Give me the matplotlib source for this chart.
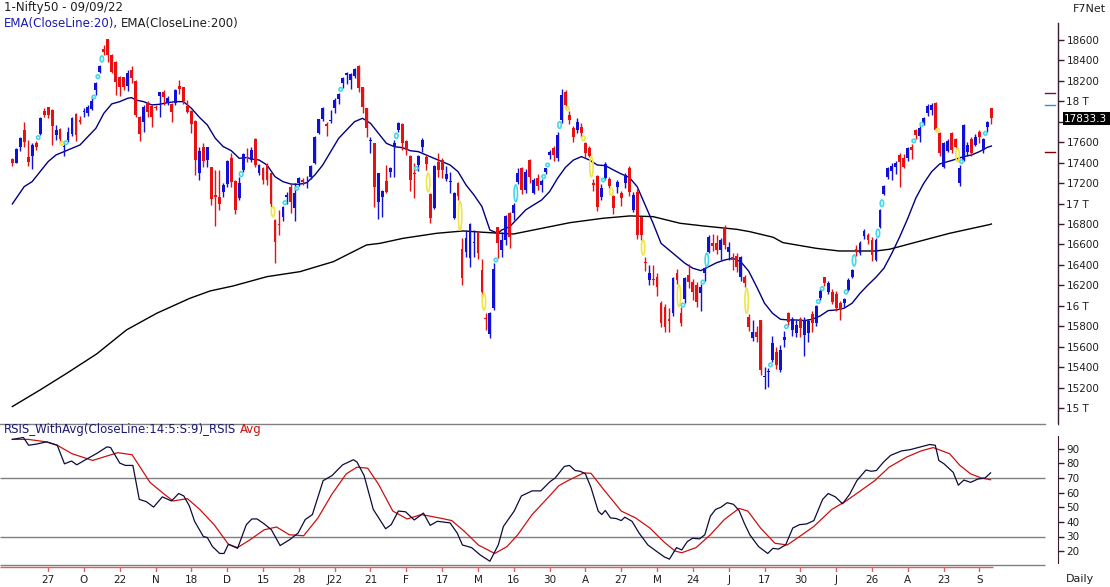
import matplotlib
matplotlib.use('Agg')
import matplotlib.pyplot as plt
from matplotlib.patches import Ellipse, Rectangle
from matplotlib.lines import Line2D

W, H = 1110, 587

# Daily OHLC, 14 Sep 2021 .. 09 Sep 2022 (one value per trading day)
opens = [
    17436, 17400, 17557, 17720, 17456, 17466, 17590, 17681, 17906, 17942,
    17916, 17671, 17733, 17551, 17622, 17678, 17873, 17818, 17893, 17883,
    17925, 18111, 18291, 18509, 18610, 18454, 18388, 18242, 18235, 18150,
    18307, 18202, 17844, 17795, 17987, 17955, 17948, 18056, 18095, 17987,
    17974, 17987, 18150, 18137, 17955, 17909, 17811, 17296, 17557, 17427,
    17355, 17075, 17068, 17110, 17192, 17443, 17221, 17058, 17329, 17455,
    17426, 17631, 17296, 17344, 17384, 17296, 16839, 16800, 16872, 17065,
    17165, 16953, 17198, 17224, 17200, 17257, 17393, 17693, 17824, 17778,
    17805, 17931, 18019, 18182, 18261, 18208, 18248, 18345, 18137, 17931,
    17612, 17589, 17019, 17067, 17224, 17312, 17550, 17719, 17778, 17615,
    17465, 17302, 17377, 17556, 17459, 17090, 16953, 17410, 17426, 17237,
    17207, 16856, 17204, 16552, 16529, 16464, 16611, 16725, 16350, 15884,
    15724, 15975, 16767, 16546, 16644, 16911, 16905, 17214, 17345, 17130,
    17426, 17107, 17247, 17180, 17312, 17476, 17540, 17443, 17818, 18095,
    17866, 17736, 17720, 17752, 17589, 17540, 17198, 17273, 17061, 17250,
    17237, 17070, 17166, 17100, 17198, 17345, 16937, 17117, 16872, 16432,
    16253, 16262, 16285, 16031, 15985, 15870, 15927, 16324, 15927, 16063,
    16301, 16236, 16204, 16122, 16318, 16530, 16611, 16611, 16546, 16774,
    16530, 16481, 16491, 16285, 16285, 15894, 15682, 15747, 15861, 15300,
    15350, 15470, 15552, 15372, 15666, 15933, 15764, 15731, 15868, 15715,
    15731, 15920, 15829, 16073, 16279, 16138, 16138, 16116, 16031, 16024,
    16155, 16285, 16560, 16515, 16680, 16695, 16645, 16450, 16768, 17094,
    17257, 17322, 17354, 17475, 17442, 17442, 17556, 17720, 17660, 17785,
    17883, 17915, 17987, 17693, 17361, 17517, 17693, 17628, 17204, 17426,
    17508, 17628, 17573, 17703, 17524, 17752, 17932]
highs = [
    17443, 17541, 17650, 17795, 17622, 17590, 17612, 17844, 17938, 17948,
    17922, 17769, 17740, 17585, 17753, 17844, 17883, 17857, 17932, 17964,
    18052, 18193, 18356, 18551, 18610, 18460, 18395, 18248, 18242, 18307,
    18346, 18209, 17857, 17964, 18007, 17964, 17964, 18095, 18111, 18052,
    17987, 18118, 18209, 18144, 18013, 17916, 17818, 17557, 17590, 17557,
    17362, 17329, 17329, 17198, 17427, 17492, 17231, 17264, 17492, 17540,
    17550, 17638, 17387, 17361, 17393, 17302, 16846, 16937, 16976, 17115,
    17191, 17198, 17256, 17247, 17265, 17375, 17660, 17830, 17945, 17800,
    17915, 18030, 18085, 18235, 18285, 18280, 18322, 18355, 18143, 17938,
    17648, 17595, 17302, 17133, 17377, 17361, 17622, 17801, 17785, 17622,
    17475, 17393, 17475, 17638, 17475, 17100, 17377, 17491, 17442, 17367,
    17312, 17116, 17214, 16660, 16741, 16807, 16741, 16735, 16454, 15933,
    15943, 16415, 16774, 16725, 16889, 16921, 17005, 17345, 17355, 17335,
    17440, 17250, 17290, 17240, 17350, 17525, 17560, 17700, 18117, 18110,
    17905, 17760, 17840, 17790, 17600, 17560, 17240, 17280, 17190, 17410,
    17260, 17080, 17230, 17120, 17300, 17365, 17110, 17140, 16880, 16480,
    16400, 16400, 16320, 16050, 16020, 15980, 16285, 16360, 15985, 16285,
    16410, 16260, 16230, 16210, 16380, 16690, 16700, 16690, 16660, 16790,
    16620, 16520, 16520, 16490, 16300, 15915, 15860, 15800, 15865, 15400,
    15390, 15700, 15600, 15620, 15750, 15940, 15890, 15860, 15890, 15890,
    15870, 15950, 16010, 16160, 16285, 16240, 16160, 16140, 16050, 16080,
    16270, 16360, 16590, 16630, 16750, 16710, 16670, 16660, 16950, 17180,
    17360, 17400, 17420, 17490, 17480, 17550, 17580, 17730, 17755, 17850,
    17970, 17980, 17995, 17700, 17600, 17630, 17700, 17640, 17380, 17780,
    17600, 17650, 17680, 17720, 17640, 17810, 17935]
lows = [
    17371, 17394, 17518, 17550, 17371, 17335, 17524, 17671, 17844, 17834,
    17573, 17622, 17595, 17466, 17605, 17661, 17612, 17779, 17844, 17860,
    17916, 18062, 18274, 18454, 18388, 18274, 18062, 18052, 18111, 18105,
    18176, 17844, 17616, 17704, 17844, 17753, 17916, 17844, 17965, 17965,
    17802, 17965, 18072, 17974, 17890, 17694, 17280, 17231, 17355, 17355,
    16987, 16781, 16938, 17068, 17166, 17166, 16895, 17035, 17313, 17410,
    17410, 17361, 17279, 17191, 17181, 16970, 16415, 16693, 16833, 17000,
    16911, 16833, 17172, 17181, 17150, 17240, 17385, 17680, 17810, 17660,
    17785, 17885, 17970, 18135, 18170, 18117, 18225, 18095, 17889, 17654,
    17491, 16970, 16846, 16872, 17107, 17257, 17263, 17703, 17524, 17475,
    17126, 17051, 17322, 17508, 17328, 16813, 16943, 17263, 17247, 17224,
    17107, 16846, 17035, 16204, 16481, 16376, 16481, 16454, 16089, 15763,
    15682, 15959, 16464, 16475, 16595, 16563, 16840, 17190, 17096, 17100,
    17200, 17090, 17130, 17110, 17290, 17440, 17420, 17420, 17790, 17935,
    17780, 17600, 17690, 17650, 17450, 17460, 17120, 16930, 17030, 17230,
    17150, 16900, 17100, 16980, 17150, 17070, 16920, 16650, 16640, 16340,
    16200, 16200, 16100, 15790, 15740, 15740, 15900, 16210, 15800, 16030,
    16170, 16060, 15990, 15950, 16240, 16520, 16540, 16510, 16450, 16560,
    16450, 16350, 16330, 16240, 16180, 15750, 15660, 15650, 15320, 15190,
    15210, 15450, 15380, 15350, 15600, 15800, 15700, 15690, 15690, 15510,
    15650, 15740, 15800, 16060, 16190, 16120, 16020, 15950, 15860, 15990,
    16140, 16270, 16490, 16500, 16650, 16600, 16440, 16440, 16760, 17080,
    17240, 17230, 17290, 17160, 17350, 17420, 17440, 17630, 17600, 17770,
    17860, 17870, 17710, 17470, 17350, 17500, 17490, 17540, 17170, 17420,
    17470, 17470, 17560, 17590, 17490, 17700, 17780]
closes = [
    17394, 17534, 17642, 17599, 17404, 17573, 17550, 17834, 17867, 17867,
    17762, 17720, 17629, 17564, 17697, 17834, 17668, 17802, 17906, 17948,
    18007, 18176, 18346, 18486, 18454, 18291, 18193, 18137, 18144, 18281,
    18225, 17867, 17681, 17948, 17899, 17844, 17932, 18089, 18046, 18036,
    17893, 18111, 18118, 18007, 17899, 17779, 17427, 17518, 17420, 17551,
    17042, 17068, 16996, 17182, 17420, 17215, 16938, 17198, 17485, 17445,
    17524, 17377, 17377, 17230, 17230, 16996, 16627, 16790, 16970, 17080,
    17019, 17100, 17247, 17214, 17205, 17367, 17648, 17824, 17938, 17758,
    17817, 18013, 18068, 18225, 18274, 18267, 18313, 18127, 17941, 17736,
    17622, 17165, 17296, 17126, 17116, 17351, 17589, 17791, 17589, 17524,
    17230, 17289, 17468, 17622, 17387, 16856, 17367, 17328, 17328, 17289,
    17220, 17107, 17074, 16269, 16666, 16797, 16624, 16513, 16138, 15871,
    15933, 16357, 16611, 16644, 16879, 16677, 16986, 17296, 17133, 17310,
    17263, 17231, 17172, 17225, 17345, 17508, 17475, 17671, 18062, 17964,
    17817, 17654, 17801, 17687, 17491, 17470, 17182, 16970, 17149, 17390,
    17172, 16960, 17214, 17051, 17280, 17117, 17084, 16693, 16693, 16416,
    16318, 16253, 16187, 15829, 15796, 15855, 16269, 16253, 15829, 16269,
    16230, 16139, 16041, 16187, 16367, 16676, 16585, 16546, 16644, 16595,
    16579, 16448, 16383, 16481, 16220, 15796, 15747, 15699, 15372, 15313,
    15362, 15633, 15421, 15568, 15698, 15845, 15868, 15812, 15780, 15861,
    15852, 15829, 15998, 16148, 16227, 16227, 16041, 15975, 15959, 16063,
    16253, 16350, 16525, 16615, 16735, 16645, 16495, 16645, 16937, 17172,
    17345, 17368, 17400, 17410, 17361, 17540, 17524, 17671, 17740, 17834,
    17954, 17964, 17720, 17491, 17589, 17615, 17524, 17556, 17345, 17768,
    17573, 17491, 17654, 17654, 17628, 17801, 17833]

# Gap zones drawn before a bar: bar index, low edge, high edge, direction
gap_bar = [7, 13, 14, 21, 22, 23, 58, 66, 69, 72, 83, 97, 102, 105, 113, 119,
           122, 127, 134, 135, 138, 140, 144, 146, 149, 151, 159, 168, 169,
           174, 175, 185, 191, 195, 203, 204, 210, 212, 218, 219, 227, 229,
           233, 238, 239, 245]
gap_lo = [17629, 17577, 17585, 18026, 18225, 18385, 17264, 16872, 16996, 17133,
          18101, 17638, 17328, 17116, 16741, 15959, 16432, 17019, 17247, 17361,
          17736, 17915, 17616, 17263, 17214, 17084, 16497, 15992, 15995, 16220,
          16383, 15927, 15405, 15780, 16025, 16155, 16116, 16390, 16670, 16970,
          17596, 17759, 17707, 17410, 17394, 17671]
gap_hi = [17661, 17603, 17605, 18059, 18258, 18444, 17313, 16970, 17022, 17165,
          18133, 17687, 17361, 17296, 17019, 16122, 16464, 17182, 17280, 17394,
          17801, 17948, 17661, 17459, 17247, 17150, 16644, 16204, 16020, 16243,
          16514, 16171, 15438, 15812, 16057, 16181, 16155, 16497, 16748, 17035,
          17629, 17791, 17726, 17540, 17426, 17703]
gap_up = [1, 0, 1, 1, 1, 1, 1, 0, 1, 1, 1, 1, 1, 0, 0, 0,
          1, 1, 1, 1, 1, 0, 0, 0, 1, 0, 0, 0, 1,
          1, 1, 0, 1, 1, 1, 1, 1, 1, 1, 1, 1, 1,
          0, 0, 1, 1]

# EMA(20) and EMA(200)
ema20_x = [0, 3, 5, 7, 9, 11, 13, 15, 17, 19, 21, 23, 25, 27, 29, 30, 31, 33, 35,
           37, 39, 41, 43, 45, 47, 49, 51, 53, 55, 57, 59, 60, 62, 64, 66, 68, 70,
           72, 74, 76, 78, 80, 82, 84, 86, 88, 90, 92, 94, 96, 98, 100, 102, 104,
           106, 108, 110, 112, 114, 116, 118, 120, 122, 123, 125, 127, 129, 131,
           133, 135, 137, 139, 141, 143, 145, 147, 149, 151, 153, 155, 157, 159,
           161, 163, 165, 167, 169, 171, 173, 175, 177, 179, 181, 183, 185, 187,
           189, 191, 193, 195, 197, 199, 201, 203, 205, 207, 209, 211, 213, 215,
           217, 219, 221, 223, 225, 227, 229, 231, 233, 235, 237, 239, 241, 243,
           245, 246]
ema20_v = [16996, 17166, 17215, 17313, 17410, 17476, 17508, 17541, 17573, 17655,
           17736, 17883, 17975, 17997, 18030, 18036, 18013, 17997, 17965, 17971,
           17987, 17997, 17997, 17932, 17844, 17769, 17639, 17557, 17518, 17443,
           17450, 17436, 17426, 17377, 17263, 17214, 17191, 17188, 17204, 17279,
           17377, 17508, 17638, 17720, 17801, 17834, 17785, 17687, 17589, 17556,
           17547, 17517, 17508, 17475, 17442, 17410, 17377, 17312, 17182, 17084,
           16970, 16741, 16709, 16742, 16775, 16856, 16938, 16987, 17035, 17117,
           17247, 17355, 17426, 17459, 17426, 17377, 17371, 17329, 17290, 17257,
           17166, 16987, 16807, 16611, 16546, 16481, 16416, 16367, 16344, 16383,
           16422, 16448, 16465, 16432, 16340, 16188, 16025, 15927, 15868, 15861,
           15861, 15855, 15868, 15901, 15953, 15959, 15976, 16025, 16122, 16204,
           16279, 16367, 16514, 16677, 16856, 17052, 17198, 17312, 17387, 17410,
           17433, 17459, 17475, 17508, 17550, 17563]
ema200_x = [0, 7, 13.7, 21.2, 28.7, 36.3, 44.6, 49.7, 55.5, 64, 72.3, 80.7, 89,
            92.4, 98.2, 106.6, 113.3, 118.3, 125.9, 131.8, 140.1, 148.4, 155.2,
            161, 167.8, 173.6, 182, 185.3, 191.2, 193.6, 202, 207.8, 217, 220.4,
            228.8, 235.5, 245.6, 246]
ema200_v = [15014, 15177, 15340, 15529, 15764, 15927, 16073, 16145, 16194, 16285,
            16334, 16432, 16595, 16611, 16660, 16709, 16732, 16719, 16702, 16748,
            16813, 16856, 16879, 16872, 16807, 16781, 16748, 16725, 16670, 16618,
            16562, 16536, 16536, 16553, 16640, 16709, 16795, 16800]

# RSI(14) and its average
rsi_x = [0, 2.8, 4.1, 5.9, 8.6, 11.3, 13.1, 14.9, 16.2, 18.4, 21.1, 23.8, 24.7,
         27, 28.4, 30.3, 31.9, 33.7, 35.5, 37.7, 40, 41.8, 43.1, 44.5, 45.8, 48,
         49, 50.3, 52.1, 53.2, 54.3, 56.6, 58.8, 60.2, 61.5, 63.3, 65.1, 67.3,
         69.6, 71.8, 73.6, 75.4, 78.1, 80.3, 83, 85.7, 86.6, 88.4, 90.7, 93.8,
         95.2, 97, 98.8, 101, 103.3, 105, 106.8, 110, 111.8, 113.1, 115.4, 117.6,
         120, 122.1, 123.4, 126.1, 127.9, 130.6, 132.8, 135.1, 136.4, 138.7, 140,
         141.4, 142.7, 144, 145.4, 147.2, 148.1, 149, 150.3, 151.7, 153, 153.9,
         155.7, 157.5, 159.7, 162, 163.8, 165.1, 166.9, 168.2, 169.6, 170.9,
         172.7, 174, 175.4, 176.7, 178.1, 179.6, 181.2, 182.6, 183.9, 185.3,
         187.5, 189.8, 191.1, 192.5, 194.3, 196.1, 197.8, 199.6, 201.4, 203.6,
         205, 206.8, 208.6, 210.4, 212.2, 214.5, 215.8, 217.1, 218.9, 220.7,
         223.4, 225.6, 228.3, 230.5, 231.9, 232.8, 234.1, 236.4, 237.7, 239.1,
         240.8, 242.6, 244.4, 245.8]
rsi_v = [96.4, 97.7, 92.4, 93.1, 94.7, 92.4, 79.7, 81.6, 79, 82.5, 86.6, 91.3,
         90.8, 80.2, 78.6, 78.6, 55.4, 53.8, 50.1, 57.1, 54.3, 59.4, 57.7, 50.8,
         40.4, 30, 29.3, 23.1, 18.4, 18.4, 24.7, 21.9, 38.1, 42, 42, 38.6, 34.6,
         23.8, 27.7, 32.3, 41.6, 45, 68.2, 71.6, 79, 82.5, 80.9, 71.6, 48.5, 35.3,
         38.1, 47.4, 46.9, 41.3, 46, 37.6, 40.4, 39.3, 32.3, 24.2, 22.4, 17.3,
         13.1, 24.2, 36.9, 47.4, 57.7, 61.2, 61.2, 67.5, 70, 77.9, 78.6, 75.1,
         74.6, 72.8, 63.5, 47.4, 45, 47.8, 42.7, 42.3, 40.9, 43.2, 40.4, 32.3,
         24.2, 19.6, 16.1, 14.5, 22.4, 20.8, 26.5, 28.8, 28.4, 31.2, 43.9, 48.5,
         50.1, 53.1, 52, 47.8, 39.2, 31.2, 23.1, 18.4, 21.9, 21.4, 24.2, 35.8,
         38.1, 38.6, 40.9, 55.4, 59.4, 57.1, 52.4, 58.9, 68.2, 75.5, 74.6, 75.1,
         80.9, 85.5, 88.5, 89.4, 91.3, 92.9, 92.4, 82, 79.7, 73.9, 65.1, 68.6,
         67, 69.3, 70, 73.5]
avg_x = [0, 4, 8.6, 11.3, 15, 20.2, 22.9, 26.5, 30.1, 34.6, 38.2, 40.4, 44, 47.1,
         50.7, 54.3, 56.6, 59.7, 63.3, 66.4, 69.6, 73.2, 76.8, 80.3, 83.9, 86.6,
         89.3, 92, 95.6, 99.2, 102.8, 107.3, 110.4, 113.6, 117.1, 121.2, 124.3,
         127, 130.6, 134.2, 137.3, 139.6, 143.6, 145.4, 148.5, 153, 156.6, 160.2,
         163.8, 166.5, 168.2, 171.8, 175.4, 178.9, 182.6, 184.8, 188, 191.6,
         194.7, 197.8, 201.4, 205.9, 209.5, 213.1, 216.7, 220.3, 224.7, 228.3,
         231.4, 235.5, 238.1, 240.8, 243.5, 245.8]
avg_v = [96.4, 96.4, 94.7, 92.4, 86.6, 82, 84.3, 87.3, 85.9, 67, 58.9, 54.3, 55.9,
         48.5, 38.1, 24.7, 22.4, 27.7, 34.6, 36.5, 31.2, 30.5, 42.7, 58.9, 72.8,
         77.4, 76.7, 65.8, 47.4, 42, 45, 42.7, 40.9, 33.5, 24.2, 18.4, 23.1, 31.2,
         45, 55.4, 64.7, 68.2, 73.5, 73.2, 62.4, 47.4, 42.7, 35.8, 26.1, 20.1,
         18.9, 22.4, 31.2, 41.6, 49.2, 47.4, 35.8, 25.4, 24.2, 30, 36.9, 48.5,
         54.3, 61.2, 68.2, 77.4, 84.3, 88.5, 90.8, 86.6, 78.6, 72.8, 70, 68.8]

date_labels = ['27', 'O', '22', 'N', '18', 'D', '15', '28', 'J22', '21', 'F', '17',
               'M', '16', '30', 'A', '27', 'M', '24', 'J', '17', '30', 'J', '26',
               'A', '23', 'S']
date_pos = [9 + 9 * k for k in range(len(date_labels))]


def fx(px):
    return px / W


def fy(py):
    return 1 - py / H


def price_at(py):
    return 18600 - (py - 40) * 9.7826


def rsi_at(py):
    return 70 + (478 - py) / 1.4625


def bar_at(px):
    return (px - 12.3) / 3.98


fig = plt.figure(figsize=(W / 100, H / 100), dpi=100)
fig.patch.set_facecolor('white')

AXC = '#3a1a34'
TXC = '#1e1e1e'
FS = 7.5      # numbers
FT = 8.5      # title texts
BLUE = '#1010d8'
RED = '#e81010'

# ---- price panel ----
ax = fig.add_axes([0, fy(423.5), fx(1058), fy(23) - fy(423.5)])
ax.set_xlim(bar_at(0), bar_at(1058))
ax.set_ylim(price_at(423.5), price_at(23))
for s in ['top', 'left', 'bottom']:
    ax.spines[s].set_visible(False)
ax.spines['right'].set_color(AXC)
ax.spines['right'].set_linewidth(1)
ax.set_xticks([])
ax.yaxis.tick_right()
yt = list(range(15000, 18601, 200))
ax.set_yticks(yt)
# the 17800 label sits under the last-price box
ax.set_yticklabels(['' if v == 17800 else (f'{v // 1000} T' if v % 1000 == 0 else str(v))
                    for v in yt])
ax.tick_params(axis='y', direction='out', length=4, width=1, colors=AXC,
               labelsize=FS, labelcolor=TXC, pad=2)

ax.plot(ema200_x, ema200_v, color='black', lw=1.0, zorder=2)
ax.plot(ema20_x, ema20_v, color='#000080', lw=1.0, zorder=2)

for i in range(len(closes)):
    o, h, l, c = opens[i], highs[i], lows[i], closes[i]
    col = BLUE if c >= o else RED
    ax.vlines(i, l, h, color=col, lw=1.0, zorder=3)
    bot = min(o, c)
    ht = max(abs(c - o), 12)
    ax.bar(i, ht, bottom=bot, width=0.72, color=col, linewidth=0, zorder=4)

for b, lo, hi, up in zip(gap_bar, gap_lo, gap_hi, gap_up):
    col = '#46d8e8' if up else '#f0e448'
    ax.add_patch(Ellipse((b - 0.5, (lo + hi) / 2), 0.85, max(hi - lo, 34),
                         fill=False, edgecolor=col, lw=1.2, zorder=5))

# ---- RSI panel ----
ax2 = fig.add_axes([0, fy(572), fx(1058), fy(423.5) - fy(572)])
ax2.set_xlim(bar_at(0), bar_at(1058))
ax2.set_ylim(rsi_at(572), rsi_at(423.5))
for s in ['top', 'left', 'bottom']:
    ax2.spines[s].set_visible(False)
ax2.spines['right'].set_color(AXC)
ax2.spines['right'].set_bounds(rsi_at(563), rsi_at(436))
ax2.set_xticks([])
ax2.yaxis.tick_right()
ax2.set_yticks(range(20, 91, 10))
ax2.tick_params(axis='y', direction='out', length=4, width=1, colors=AXC,
                labelsize=FS, labelcolor=TXC, pad=2)

gx1 = bar_at(1045)
ax2.hlines([70, 30, rsi_at(564.5)], bar_at(0), gx1, color='#808080', lw=1)
ax2.plot(avg_x, avg_v, color='#cc1010', lw=0.9, zorder=3)
ax2.plot(rsi_x, rsi_v, color='#0c0c3a', lw=0.9, zorder=4)

# date axis
ax2.hlines(rsi_at(567), bar_at(0), len(closes) - 0.6, color='#e06060', lw=1)
ax2.vlines(date_pos, rsi_at(567), rsi_at(572), color='#e06060', lw=1)
for p, s in zip(date_pos, date_labels):
    ax2.text(p, rsi_at(580), s, ha='center', va='center', fontsize=FS,
             color=TXC, clip_on=False)

# panel separator
fig.add_artist(Line2D([0, fx(1045)], [fy(423.5), fy(423.5)], color='#808080', lw=1))

# price marks left of axis
for py, c in [(93.3, '#70105a'), (105.3, '#3a8ad0'), (152.3, '#800000')]:
    fig.add_artist(Line2D([fx(1045), fx(1055)], [fy(py), fy(py)], color=c, lw=1))

# last price box
fig.add_artist(Rectangle((fx(1063), fy(125)), fx(1110) - fx(1063), fy(112) - fy(125),
                         transform=fig.transFigure, facecolor='black', edgecolor='none',
                         zorder=10))
fig.text(fx(1064), fy(118.5), '17833.3', color='white', fontsize=FS,
         va='center', ha='left', zorder=11)

# titles
fig.text(fx(4), fy(8), '1-Nifty50 - 09/09/22', fontsize=FT, color=TXC, va='center')
fig.text(fx(1106), fy(8.5), 'F7Net', fontsize=FS + 0.5, color=TXC, va='center',
         ha='right')
fig.canvas.draw()
r = fig.canvas.get_renderer()
t1 = fig.text(fx(4), fy(23.5), 'EMA(CloseLine:20),', fontsize=FT, color='#1a1ab0',
              va='center')
bb = t1.get_window_extent(r)
fig.text((bb.x1 + 3) / W, fy(23.5), 'EMA(CloseLine:200)', fontsize=FT,
         color=TXC, va='center')
t2 = fig.text(fx(4), fy(430), 'RSIS_WithAvg(CloseLine:14:5:S:9)_RSIS', fontsize=FT,
              color='#1a1a70', va='center')
bb2 = t2.get_window_extent(r)
fig.text((bb2.x1 + 4) / W, fy(430), 'Avg', fontsize=FT, color='#d01010', va='center')
fig.text(fx(1066), fy(579), 'Daily', fontsize=FS + 0.5, color=TXC, va='center')

fig.savefig('out.png', dpi=100)
